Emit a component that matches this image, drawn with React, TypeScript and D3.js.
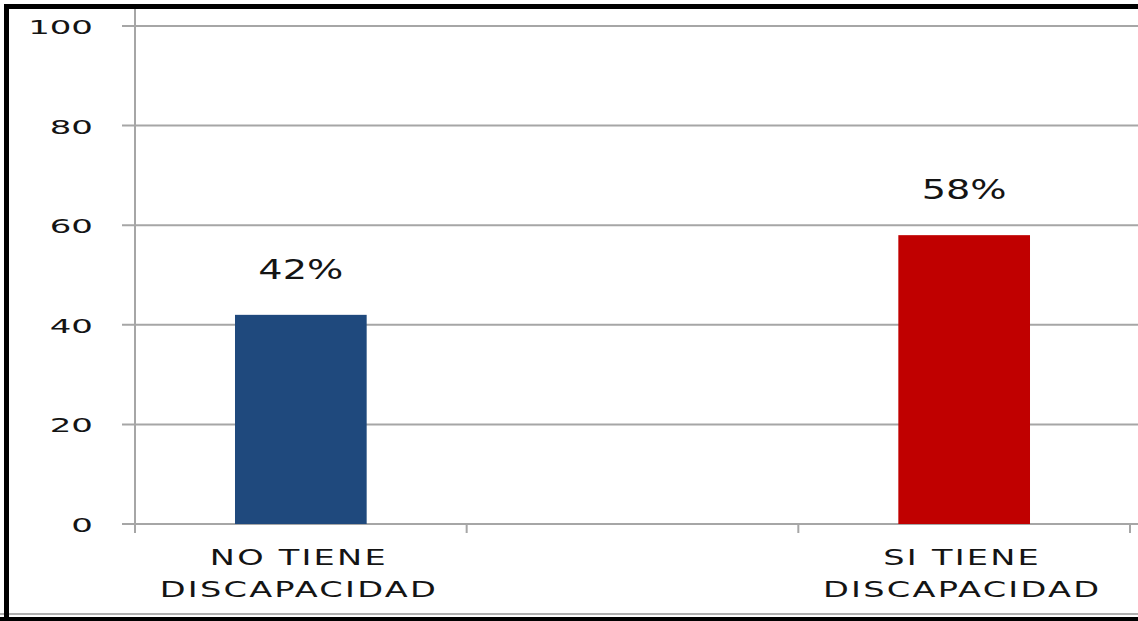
import React from "react";
import * as d3 from "d3";

const categories = ["NO TIENE|DISCAPACIDAD", "SI TIENE|DISCAPACIDAD"];
const axisSlots = [categories[0], "", categories[1]];
const values = [42, 58];
const valueLabels = ["42%", "58%"];
const barColors = ["#1f497d", "#c00000"];
const yTicks = [0, 20, 40, 60, 80, 100];

const font = "'DejaVu Sans', Verdana, sans-serif";

function SText(props: { x: number; y: number; sx: number; size: number; anchor: string; ls?: number; children: React.ReactNode }) {
  return (
    <text
      transform={`translate(${props.x},${props.y}) scale(${props.sx},1)`}
      textAnchor={props.anchor}
      fontFamily={font}
      fontSize={props.size}
      letterSpacing={props.ls || 0}
      fill="#141414"
    >
      {props.children}
    </text>
  );
}

export default function App() {
  const W = 1138;
  const H = 621;
  const plotLeft = 135;
  const plotRight = 1130;
  const plotTop = 26;
  const plotBottom = 524;

  const x = d3.scaleBand<string>().domain(axisSlots).range([plotLeft, plotRight]).paddingInner(0).paddingOuter(0);
  const y = d3.scaleLinear().domain([0, 100]).range([plotBottom, plotTop]);
  const barW = x.bandwidth() * 0.397;
  const boundaries = [...axisSlots.map((s) => x(s) as number), plotRight];

  return (
    <svg width={W} height={H} style={{ position: "absolute", left: 0, top: 0, background: "#fff" }}>
      <rect x={0} y={0} width={W} height={H} fill="#fff" />
      {yTicks.map((t) => (
        <g key={t}>
          <line x1={plotLeft - 13} x2={W} y1={y(t)} y2={y(t)} stroke="#a6a6a6" strokeWidth={2} />
          <SText x={93} y={y(t) + 8} sx={1.7} size={20} anchor="end">
            {t}
          </SText>
        </g>
      ))}
      <line x1={plotLeft} x2={plotLeft} y1={plotTop - 22} y2={plotBottom} stroke="#a6a6a6" strokeWidth={2} />
      {boundaries.map((b, i) => (
        <line key={i} x1={b} x2={b} y1={plotBottom} y2={plotBottom + 9} stroke="#a6a6a6" strokeWidth={2} />
      ))}
      {categories.map((c, i) => {
        const cx = (x(c) as number) + x.bandwidth() / 2;
        const lines = c.split("|");
        return (
          <g key={c}>
            <rect x={cx - barW / 2} y={y(values[i])} width={barW} height={plotBottom - y(values[i])} fill={barColors[i]} />
            <SText x={cx} y={y(values[i]) - 36} sx={1.47} size={26} anchor="middle">
              {valueLabels[i]}
            </SText>
            {lines.map((l, j) => (
              <SText key={j} x={cx - 2} y={565 + j * 32} sx={1.6} size={21} anchor="middle" ls={1.4}>
                {l}
              </SText>
            ))}
          </g>
        );
      })}
      <line x1={0} x2={W} y1={614} y2={614} stroke="#b0b0b0" strokeWidth={2} />
      <rect x={0} y={617} width={W} height={4} fill="#000" />
      <rect x={4} y={4} width={W} height={5} fill="#000" />
      <rect x={4} y={4} width={5} height={H} fill="#000" />
    </svg>
  );
}
